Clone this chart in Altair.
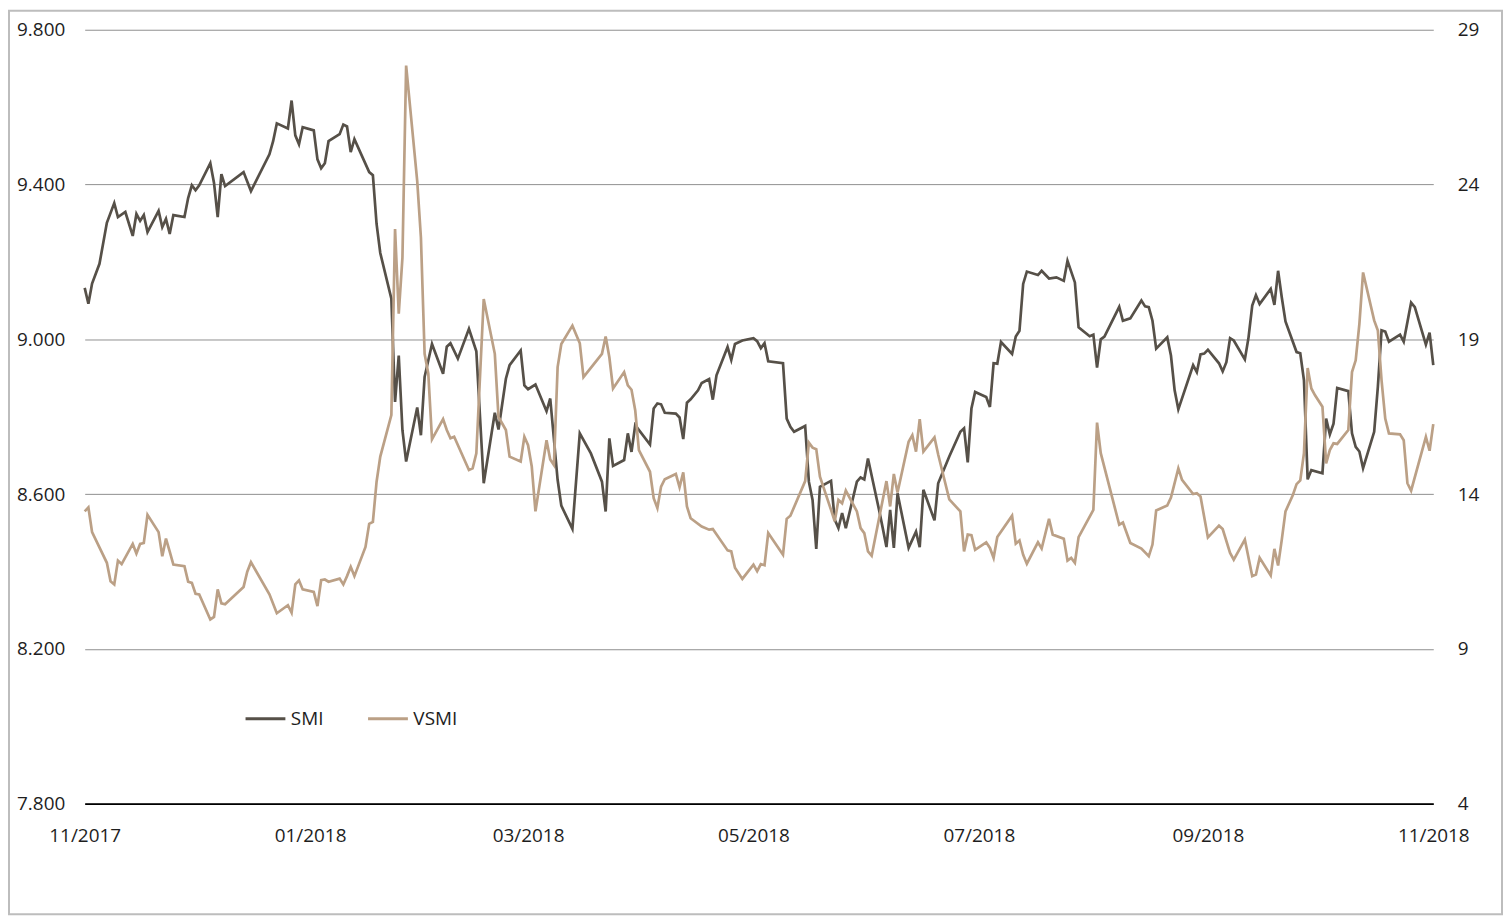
import altair as alt
import pandas as pd

# ---------------- data ----------------
smi_dates = [
    "2017-11-01", "2017-11-02", "2017-11-03", "2017-11-05", "2017-11-07", "2017-11-09", "2017-11-10",
    "2017-11-12", "2017-11-14", "2017-11-15", "2017-11-16", "2017-11-17", "2017-11-18", "2017-11-21",
    "2017-11-22", "2017-11-23", "2017-11-24", "2017-11-25", "2017-11-28", "2017-11-29", "2017-11-30",
    "2017-12-01", "2017-12-02", "2017-12-05", "2017-12-06", "2017-12-07", "2017-12-08", "2017-12-09",
    "2017-12-14", "2017-12-16", "2017-12-21", "2017-12-22", "2017-12-23", "2017-12-26", "2017-12-27",
    "2017-12-28", "2017-12-29", "2017-12-30",
    "2018-01-02", "2018-01-03", "2018-01-04", "2018-01-05", "2018-01-06", "2018-01-09", "2018-01-10",
    "2018-01-11", "2018-01-12", "2018-01-13", "2018-01-17", "2018-01-18", "2018-01-19", "2018-01-20",
    "2018-01-23", "2018-01-24", "2018-01-25", "2018-01-26", "2018-01-27", "2018-01-30", "2018-01-31",
    "2018-02-01", "2018-02-03", "2018-02-06", "2018-02-07", "2018-02-08", "2018-02-10", "2018-02-13",
    "2018-02-15", "2018-02-17", "2018-02-20", "2018-02-21", "2018-02-23", "2018-02-24", "2018-02-27",
    "2018-02-28",
    "2018-03-01", "2018-03-03", "2018-03-06", "2018-03-07", "2018-03-09", "2018-03-10", "2018-03-13",
    "2018-03-15", "2018-03-18", "2018-03-21", "2018-03-22", "2018-03-23", "2018-03-24", "2018-03-27",
    "2018-03-28", "2018-03-29", "2018-03-30",
    "2018-04-03", "2018-04-04", "2018-04-05", "2018-04-06", "2018-04-07", "2018-04-10", "2018-04-11",
    "2018-04-12", "2018-04-13", "2018-04-14", "2018-04-16", "2018-04-17", "2018-04-19", "2018-04-20",
    "2018-04-21", "2018-04-24", "2018-04-25", "2018-04-26", "2018-04-28",
    "2018-05-01", "2018-05-02", "2018-05-03", "2018-05-04", "2018-05-05", "2018-05-09", "2018-05-10",
    "2018-05-11", "2018-05-12", "2018-05-15", "2018-05-16", "2018-05-17", "2018-05-18", "2018-05-19",
    "2018-05-22", "2018-05-23", "2018-05-24", "2018-05-25", "2018-05-26", "2018-05-29", "2018-05-30",
    "2018-05-31",
    "2018-06-01", "2018-06-04", "2018-06-05", "2018-06-06", "2018-06-07", "2018-06-08", "2018-06-09",
    "2018-06-12", "2018-06-14", "2018-06-15", "2018-06-16", "2018-06-19", "2018-06-20", "2018-06-23",
    "2018-06-26", "2018-06-27", "2018-06-28", "2018-06-29", "2018-06-30",
    "2018-07-03", "2018-07-04", "2018-07-05", "2018-07-06", "2018-07-07", "2018-07-10", "2018-07-11",
    "2018-07-12", "2018-07-13", "2018-07-14", "2018-07-17", "2018-07-18", "2018-07-20", "2018-07-22",
    "2018-07-24", "2018-07-25", "2018-07-27", "2018-07-28", "2018-07-31",
    "2018-08-01", "2018-08-02", "2018-08-03", "2018-08-04", "2018-08-08", "2018-08-09", "2018-08-11",
    "2018-08-14", "2018-08-15", "2018-08-16", "2018-08-17", "2018-08-18", "2018-08-21", "2018-08-22",
    "2018-08-23", "2018-08-24", "2018-08-28", "2018-08-29", "2018-08-30", "2018-08-31",
    "2018-09-01", "2018-09-04", "2018-09-05", "2018-09-06", "2018-09-07", "2018-09-08", "2018-09-11",
    "2018-09-12", "2018-09-13", "2018-09-14", "2018-09-15", "2018-09-18", "2018-09-19", "2018-09-20",
    "2018-09-21", "2018-09-22", "2018-09-25", "2018-09-26", "2018-09-27", "2018-09-28", "2018-09-29",
    "2018-10-02", "2018-10-03", "2018-10-04", "2018-10-05", "2018-10-06", "2018-10-09", "2018-10-10",
    "2018-10-11", "2018-10-12", "2018-10-13", "2018-10-16", "2018-10-17", "2018-10-18", "2018-10-19",
    "2018-10-20", "2018-10-23", "2018-10-24", "2018-10-26", "2018-10-27", "2018-10-30", "2018-10-31",
    "2018-11-01",
]
smi_values = [
    9133, 9092, 9144, 9195, 9301, 9352, 9316, 9329, 9267, 9324, 9306, 9321, 9277, 9332, 9290, 9311,
    9272, 9321, 9316, 9365, 9398,
    9385, 9398, 9455, 9404, 9316, 9427, 9396, 9432, 9383, 9478, 9512, 9558, 9545, 9617, 9527, 9504, 9548,
    9540, 9465, 9442, 9455, 9512, 9530, 9555, 9550, 9484, 9517, 9432, 9424, 9298, 9223, 9105, 8838,
    8958, 8765, 8684, 8824, 8752,
    8903, 8988, 8911, 8981, 8990, 8950, 9027, 8969, 8628, 8810, 8767, 8898, 8933, 8971, 8881,
    8871, 8883, 8814, 8847, 8637, 8570, 8510, 8757, 8705, 8632, 8555, 8744, 8673, 8688, 8757, 8709, 8778,
    8728, 8821, 8834, 8832, 8810, 8808, 8798, 8742, 8836, 8845, 8868, 8887, 8897, 8844, 8907, 8980,
    8947, 8988, 8997,
    9003, 8995, 8977, 8990, 8943, 8938, 8795, 8774, 8761, 8776, 8632, 8585, 8458, 8619, 8634, 8534,
    8512, 8551, 8512, 8632, 8643, 8638,
    8692, 8559, 8512, 8463, 8559, 8461, 8602, 8461, 8503, 8463, 8611, 8532, 8628, 8697, 8761, 8770,
    8682, 8821, 8864,
    8851, 8825, 8938, 8937, 8993, 8962, 9007, 9022, 9143, 9175, 9166, 9177, 9157, 9160, 9151, 9203,
    9147, 9031, 9008,
    9012, 8927, 9000, 9007, 9084, 9048, 9054, 9100, 9085, 9083, 9048, 8976, 9005, 8958, 8868, 8819,
    8933, 8915, 8961, 8963,
    8973, 8938, 8917, 8941, 9003, 8997, 8948, 9005, 9087, 9114, 9091, 9130, 9089, 9177, 9108, 9046,
    8967, 8964, 8894, 8638, 8662,
    8654, 8795, 8754, 8782, 8874, 8866, 8757, 8722, 8710, 8667, 8761, 8877, 9023, 9020, 8994, 9012,
    8994, 9095, 9083, 8986, 9017,
    8933,
]

vsmi_dates = [
    "2017-11-01", "2017-11-02", "2017-11-03", "2017-11-07", "2017-11-08", "2017-11-09", "2017-11-10",
    "2017-11-11", "2017-11-14", "2017-11-15", "2017-11-16", "2017-11-17", "2017-11-18", "2017-11-21",
    "2017-11-22", "2017-11-23", "2017-11-24", "2017-11-25", "2017-11-28", "2017-11-29", "2017-11-30",
    "2017-12-01", "2017-12-02", "2017-12-05", "2017-12-06", "2017-12-07", "2017-12-08", "2017-12-09",
    "2017-12-14", "2017-12-15", "2017-12-16", "2017-12-21", "2017-12-23", "2017-12-26", "2017-12-27",
    "2017-12-28", "2017-12-29", "2017-12-30",
    "2018-01-02", "2018-01-03", "2018-01-04", "2018-01-05", "2018-01-06", "2018-01-09", "2018-01-10",
    "2018-01-11", "2018-01-12", "2018-01-13", "2018-01-16", "2018-01-17", "2018-01-18", "2018-01-19",
    "2018-01-20", "2018-01-23", "2018-01-24", "2018-01-25", "2018-01-26", "2018-01-27", "2018-01-30",
    "2018-01-31",
    "2018-02-01", "2018-02-02", "2018-02-03", "2018-02-06", "2018-02-07", "2018-02-08", "2018-02-09",
    "2018-02-13", "2018-02-14", "2018-02-15", "2018-02-17", "2018-02-20", "2018-02-21", "2018-02-22",
    "2018-02-23", "2018-02-24", "2018-02-27", "2018-02-28",
    "2018-03-01", "2018-03-02", "2018-03-03", "2018-03-06", "2018-03-07", "2018-03-08", "2018-03-09",
    "2018-03-10", "2018-03-13", "2018-03-15", "2018-03-16", "2018-03-21", "2018-03-22", "2018-03-23",
    "2018-03-24", "2018-03-27", "2018-03-28", "2018-03-29", "2018-03-30", "2018-03-31",
    "2018-04-03", "2018-04-04", "2018-04-05", "2018-04-06", "2018-04-07", "2018-04-10", "2018-04-11",
    "2018-04-12", "2018-04-13", "2018-04-14", "2018-04-17", "2018-04-19", "2018-04-20", "2018-04-24",
    "2018-04-25", "2018-04-26", "2018-04-28",
    "2018-05-01", "2018-05-02", "2018-05-03", "2018-05-04", "2018-05-05", "2018-05-09", "2018-05-10",
    "2018-05-11", "2018-05-15", "2018-05-16", "2018-05-17", "2018-05-18", "2018-05-19", "2018-05-22",
    "2018-05-23", "2018-05-24", "2018-05-25", "2018-05-26", "2018-05-29", "2018-05-30", "2018-05-31",
    "2018-06-01", "2018-06-02", "2018-06-06", "2018-06-07", "2018-06-08", "2018-06-09", "2018-06-12",
    "2018-06-13", "2018-06-14", "2018-06-15", "2018-06-16", "2018-06-19", "2018-06-20", "2018-06-23",
    "2018-06-26", "2018-06-27", "2018-06-28", "2018-06-29", "2018-06-30",
    "2018-07-03", "2018-07-04", "2018-07-05", "2018-07-06", "2018-07-10", "2018-07-11", "2018-07-12",
    "2018-07-13", "2018-07-14", "2018-07-17", "2018-07-18", "2018-07-20", "2018-07-21", "2018-07-24",
    "2018-07-25", "2018-07-26", "2018-07-27", "2018-07-28",
    "2018-08-01", "2018-08-02", "2018-08-03", "2018-08-08", "2018-08-09", "2018-08-11", "2018-08-14",
    "2018-08-16", "2018-08-17", "2018-08-18", "2018-08-21", "2018-08-22", "2018-08-24", "2018-08-25",
    "2018-08-28", "2018-08-29", "2018-08-30",
    "2018-09-01", "2018-09-04", "2018-09-05", "2018-09-07", "2018-09-08", "2018-09-11", "2018-09-13",
    "2018-09-14", "2018-09-15", "2018-09-18", "2018-09-19", "2018-09-20", "2018-09-21", "2018-09-22",
    "2018-09-24", "2018-09-25", "2018-09-26", "2018-09-27", "2018-09-28", "2018-09-29", "2018-09-30",
    "2018-10-02", "2018-10-03", "2018-10-04", "2018-10-05", "2018-10-06", "2018-10-09", "2018-10-10",
    "2018-10-11", "2018-10-12", "2018-10-13", "2018-10-16", "2018-10-17", "2018-10-18", "2018-10-19",
    "2018-10-20", "2018-10-23", "2018-10-24", "2018-10-25", "2018-10-26", "2018-10-30", "2018-10-31",
    "2018-11-01",
]
vsmi_values = [
    13.44, 13.57, 12.77, 11.78, 11.18, 11.08, 11.85, 11.74, 12.39, 12.08, 12.39, 12.42, 13.33, 12.77,
    11.99, 12.56, 12.15, 11.72, 11.67, 11.17, 11.13,
    10.78, 10.76, 9.95, 10.03, 10.92, 10.47, 10.44, 11.00, 11.49, 11.80, 10.76, 10.15, 10.41, 10.17,
    11.08, 11.21, 10.92,
    10.84, 10.38, 11.22, 11.24, 11.17, 11.27, 11.08, 11.35, 11.65, 11.35, 12.29, 13.04, 13.10, 14.40,
    15.21, 16.55, 22.56, 19.83, 21.64, 27.84, 24.11, 22.29,
    18.53, 17.89, 15.77, 16.42, 16.07, 15.80, 15.85, 14.78, 14.83, 15.32, 20.30, 18.53, 16.49, 16.28,
    16.07, 15.21, 15.05, 15.85,
    15.58, 14.89, 13.44, 15.74, 15.12, 14.94, 18.10, 18.85, 19.44, 18.87, 17.78, 18.53, 19.09, 18.42,
    17.41, 17.94, 17.51, 17.37, 16.71, 15.42,
    14.72, 13.87, 13.55, 14.24, 14.48, 14.65, 14.22, 14.70, 13.60, 13.22, 12.95, 12.85, 12.87, 12.18,
    12.15, 11.62, 11.26,
    11.72, 11.51, 11.74, 11.70, 12.74, 12.04, 13.20, 13.30, 14.42, 15.66, 15.50, 15.45, 14.56, 13.49,
    13.12, 13.81, 13.70, 14.11, 13.44, 12.90, 12.74,
    12.15, 12.01, 14.42, 13.60, 14.65, 14.05, 15.69, 15.90, 15.37, 16.42, 15.37, 15.83, 15.28, 13.83,
    13.44, 12.15, 12.69, 12.67, 12.20,
    12.44, 12.26, 11.94, 12.61, 13.30, 12.40, 12.50, 12.04, 11.75, 12.44, 12.24, 13.20, 12.69, 12.56,
    11.85, 11.94, 11.78, 12.61,
    13.49, 16.31, 15.32, 13.01, 13.08, 12.42, 12.24, 11.99, 12.37, 13.47, 13.63, 13.89, 14.83, 14.46,
    14.00, 14.03, 13.92,
    12.60, 12.98, 12.87, 12.10, 11.88, 12.53, 11.35, 11.40, 11.94, 11.37, 12.23, 11.69, 12.53, 13.44,
    13.97, 14.32, 14.44, 15.32, 18.07, 17.41, 17.19,
    16.82, 14.99, 15.42, 15.64, 15.62, 16.07, 17.94, 18.32, 19.50, 21.16, 19.61, 19.28, 17.67, 16.44,
    15.96, 15.93, 15.74, 14.35, 14.11, 15.85, 15.40,
    16.26,
]

series_names = ["SMI", "VSMI"]
series_colors = ["#565048", "#bba086"]
smi_ticks = [7800, 8200, 8600, 9000, 9400, 9800]
vsmi_ticks = [4, 9, 14, 19, 24, 29]
x_tick_months = [(2017, 11), (2018, 1), (2018, 3), (2018, 5), (2018, 7), (2018, 9), (2018, 11)]

# ---------------- chart ----------------
FONT = "Open Sans"
TEXT = "#1e1e1e"
W, H = 1354, 777
PAD = {"left": 77, "top": 20, "right": 70, "bottom": 112}

smi_df = pd.DataFrame({"date": smi_dates, "value": smi_values, "series": series_names[0]})
vsmi_df = pd.DataFrame({"date": vsmi_dates, "value": vsmi_values, "series": series_names[1]})

tick_dt = [alt.DateTime(year=y, month=m, date=1, utc=True) for (y, m) in x_tick_months]

x_enc = alt.X(
    "date:T",
    scale=alt.Scale(type="utc", domain=[tick_dt[0], tick_dt[-1]]),
    axis=alt.Axis(
        values=tick_dt,
        labelExpr="utcFormat(datum.value, '%m/%Y')",
        title=None,
        grid=False,
        ticks=False,
        domain=True,
        domainColor="#000000",
        domainWidth=2,
        labelPadding=23,
        labelFontSize=19,
        labelFont=FONT,
        labelColor=TEXT,
        labelFlush=False,
    ),
)

color_enc = alt.Color(
    "series:N",
    scale=alt.Scale(domain=series_names, range=series_colors),
    legend=alt.Legend(
        title=None,
        orient="none",
        legendX=160,
        legendY=670,
        direction="horizontal",
        symbolType="stroke",
        symbolSize=1600,
        symbolStrokeWidth=3,
        labelFont=FONT,
        labelFontSize=19,
        labelColor=TEXT,
        labelOffset=4,
        columnPadding=38,
    ),
)

smi_line = alt.Chart(smi_df).mark_line(strokeWidth=2.7).encode(
    x=x_enc,
    y=alt.Y(
        "value:Q",
        scale=alt.Scale(domain=[smi_ticks[0], smi_ticks[-1]], nice=False, zero=False),
        axis=alt.Axis(
            orient="left",
            values=smi_ticks,
            labelExpr="replace(format(datum.value, ',.0f'), ',', '.')",
            title=None,
            grid=True,
            gridColor="#8f8f8f",
            gridWidth=1,
            domain=False,
            ticks=False,
            labelPadding=20,
            labelFontSize=19,
            labelFont=FONT,
            labelColor=TEXT,
        ),
    ),
    color=color_enc,
)

vsmi_line = alt.Chart(vsmi_df).mark_line(strokeWidth=2.7).encode(
    x=x_enc,
    y=alt.Y(
        "value:Q",
        scale=alt.Scale(domain=[vsmi_ticks[0], vsmi_ticks[-1]], nice=False, zero=False),
        axis=alt.Axis(
            orient="right",
            values=vsmi_ticks,
            title=None,
            grid=False,
            domain=False,
            ticks=False,
            labelPadding=24,
            labelFontSize=19,
            labelFont=FONT,
            labelColor=TEXT,
        ),
    ),
    color=color_enc,
)

# light frame around the whole picture (decoration, not data)
frame = alt.Chart(pd.DataFrame({"frame": [0]})).mark_rect(
    fill=None, stroke="#bdbdbd", strokeWidth=2
).encode(
    x=alt.value(-PAD["left"] + 1),
    x2=alt.value(W + PAD["right"] - 1),
    y=alt.value(-PAD["top"] + 1),
    y2=alt.value(H + PAD["bottom"] - 1),
)

chart = (
    alt.layer(frame, smi_line, vsmi_line)
    .resolve_scale(y="independent")
    .properties(
        width=W,
        height=H,
        padding=PAD,
        autosize=alt.AutoSizeParams(type="none"),
        background="#ffffff",
    )
    .configure_view(stroke=None)
)

chart.save("out.html", embed_options={"renderer": "svg", "actions": False})
